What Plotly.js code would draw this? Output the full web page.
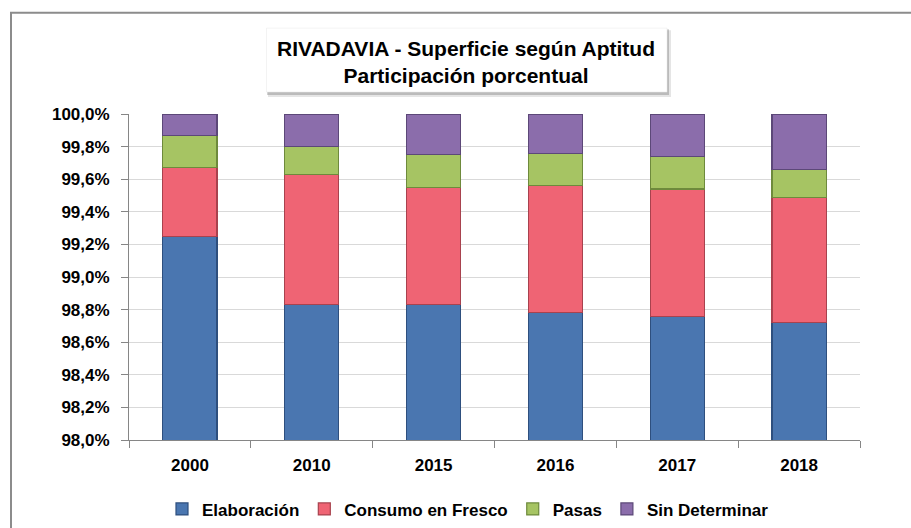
<!DOCTYPE html>
<html>
<head>
<meta charset="utf-8">
<script src="https://cdn.plot.ly/plotly-3.0.1.min.js"></script>
<style>html,body{margin:0;padding:0;background:#fff;}#chart{width:911px;height:528px;}</style>
</head>
<body>
<div id="chart"></div>
<script>
const years = ["2000", "2010", "2015", "2016", "2017", "2018"];
const elaboracion = [99.25, 98.83, 98.83, 98.78, 98.76, 98.72];
const consumoFresco = [0.42, 0.80, 0.72, 0.78, 0.78, 0.77];
const pasas = [0.20, 0.17, 0.20, 0.20, 0.20, 0.17];
const sinDeterminar = [0.13, 0.20, 0.25, 0.24, 0.26, 0.34];
const seriesNames = ["Elaboración", "Consumo en Fresco", "Pasas", "Sin Determinar"];
const fills = ["#4A76B0", "#EF6474", "#A6C463", "#8B6DAB"];
const edges = ["#2E4F7E", "#A8424E", "#6E8A3C", "#5C4878"];

const FONT = "Liberation Sans, Arial, sans-serif";
const L = 129, T = 114, R = 860, B = 440.5;
const px = x => (x - L) / (R - L);
const py = y => (B - y) / (B - T);

const data = [elaboracion, consumoFresco, pasas, sinDeterminar].map((vals, i) => ({
  type: "bar",
  name: seriesNames[i],
  x: years,
  y: vals,
  width: 0.445,
  marker: {color: fills[i], line: {color: edges[i], width: 1.2}},
  hoverinfo: "x+y+name"
}));

const layout = {
  width: 911, height: 528,
  margin: {l: L, r: 911 - R, t: T, b: 528 - B, pad: 0, autoexpand: false},
  barmode: "stack",
  paper_bgcolor: "#ffffff",
  plot_bgcolor: "#ffffff",
  separators: ",.",
  showlegend: true,
  title: {
    text: "RIVADAVIA - Superficie según Aptitud<br>Participación porcentual",
    font: {family: FONT, size: 21, weight: 700, color: "#000"},
    x: 466 / 911, xanchor: "center",
    y: 1 - 56 / 528, yanchor: "middle",
    xref: "container", yref: "container"
  },
  xaxis: {
    type: "category",
    showline: true, linecolor: "#868686", linewidth: 1,
    ticks: "outside", tickson: "boundaries", ticklen: 7, tickcolor: "#868686",
    showgrid: false,
    tickfont: {family: FONT, size: 17, weight: 700, color: "#000"},
    ticklabelstandoff: 10,
    fixedrange: true
  },
  yaxis: {
    range: [98, 100],
    dtick: 0.2, tick0: 98,
    tickformat: ".1f", ticksuffix: "%",
    showline: true, linecolor: "#868686", linewidth: 1,
    ticks: "outside", ticklen: 7, tickcolor: "#868686",
    showgrid: true, gridcolor: "#D9D9D9", gridwidth: 1,
    zeroline: false,
    tickfont: {family: FONT, size: 17, weight: 700, color: "#000"},
    ticklabelstandoff: 8,
    fixedrange: true
  },
  legend: {
    orientation: "h",
    x: px(468), xanchor: "center",
    y: py(510), yanchor: "middle",
    font: {family: FONT, size: 17, weight: 700, color: "#000"},
    traceorder: "normal",
    itemclick: false, itemdoubleclick: false
  },
  shapes: [
    {type: "rect", xref: "paper", yref: "paper", x0: px(11), x1: px(990), y0: py(600), y1: py(12.5),
     line: {color: "#8C8C8C", width: 2}, fillcolor: "rgba(0,0,0,0)", layer: "below"},
    {type: "rect", xref: "paper", yref: "paper", x0: px(268), x1: px(671), y0: py(97), y1: py(30),
     line: {width: 0}, fillcolor: "rgba(0,0,0,0.10)", layer: "above"},
    {type: "rect", xref: "paper", yref: "paper", x0: px(267), x1: px(669), y0: py(95), y1: py(29),
     line: {width: 0}, fillcolor: "rgba(0,0,0,0.18)", layer: "above"},
    {type: "rect", xref: "paper", yref: "paper", x0: px(266.5), x1: px(667), y0: py(92), y1: py(28),
     line: {color: "#E6E6E6", width: 0.5}, fillcolor: "#ffffff", layer: "above"}
  ]
};

Plotly.newPlot("chart", data, layout, {displayModeBar: false, staticPlot: false});
</script>
</body>
</html>
